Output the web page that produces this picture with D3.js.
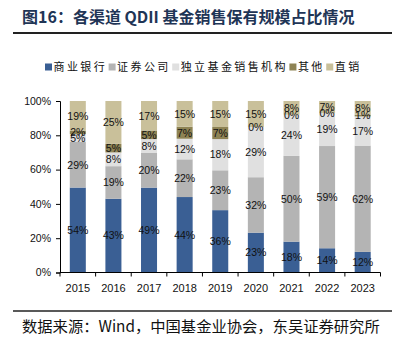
<!DOCTYPE html>
<html>
<head>
<meta charset="utf-8">
<script src="https://cdn.jsdelivr.net/npm/d3@7"></script>
<style>
  html, body { margin: 0; padding: 0; background: #fff; }
  svg { display: block; }
</style>
</head>
<body>
<svg id="chart" width="396" height="342"></svg>
<script>
// QDII fund holdings share by sales channel, 2015–2023 (%)
const years = ["2015", "2016", "2017", "2018", "2019", "2020", "2021", "2022", "2023"];
const channels = ["商业银行", "证券公司", "独立基金销售机构", "其他", "直销"];
const bank        = [54, 43, 49, 44, 36, 23, 18, 14, 12];
const securities  = [29, 19, 20, 22, 23, 32, 50, 59, 62];
const independent = [5, 8, 8, 12, 18, 29, 24, 19, 17];
const other       = [2, 5, 5, 7, 7, 0, 0, 0, 1];
const direct      = [19, 25, 17, 15, 15, 15, 8, 7, 8];
const yTicks = [0, 0.2, 0.4, 0.6, 0.8, 1];
const colors = ["#3a5f94", "#b4b4b4", "#e0e0e0", "#8e8354", "#c9c09a"];

const seriesValues = [bank, securities, independent, other, direct];
const rows = years.map((y, i) => {
  const r = { year: y };
  channels.forEach((c, k) => { r[c] = seriesValues[k][i]; });
  return r;
});

const svg = d3.select("#chart");
const cjk = "'Noto Sans CJK SC', 'Noto Sans', sans-serif";
const latin = "'Liberation Sans', Arial, sans-serif";

// Title and rules
svg.append("text")
  .attr("x", 22).attr("y", 23)
  .attr("font-family", cjk).attr("font-weight", 700)
  .attr("font-size", 16).attr("fill", "#1f3556")
  .text("图16：各渠道 QDII 基金销售保有规模占比情况");
svg.append("line").attr("x1", 13).attr("x2", 392).attr("y1", 33).attr("y2", 33)
  .attr("stroke", "#222").attr("stroke-width", 2);
svg.append("line").attr("x1", 13).attr("x2", 392).attr("y1", 311).attr("y2", 311)
  .attr("stroke", "#222").attr("stroke-width", 1.5);
svg.append("text")
  .attr("x", 22).attr("y", 332)
  .attr("font-family", cjk).attr("font-size", 15.3).attr("fill", "#111")
  .text("数据来源：Wind，中国基金业协会，东吴证券研究所");

// Scales
const x = d3.scaleBand().domain(years).range([60, 380.5]).paddingInner(0.55).paddingOuter(0.275);
const y = d3.scaleLinear().domain([0, 1]).range([272.5, 101]);

// Percent-stacked layers
const stack = d3.stack().keys(channels).offset(d3.stackOffsetExpand);
const layers = stack(rows);

const g = svg.append("g");
layers.forEach((layer, k) => {
  g.append("g").attr("fill", colors[k])
    .selectAll("rect").data(layer).join("rect")
    .attr("x", d => x(d.data.year))
    .attr("width", x.bandwidth())
    .attr("y", d => y(d[1]))
    .attr("height", d => y(d[0]) - y(d[1]));
});

// Segment value labels
layers.forEach((layer, k) => {
  g.append("g")
    .selectAll("text").data(layer).join("text")
    .attr("x", d => x(d.data.year) + x.bandwidth() / 2)
    .attr("y", d => (y(d[0]) + y(d[1])) / 2)
    .attr("dy", "0.36em")
    .attr("text-anchor", "middle")
    .attr("font-family", latin).attr("font-size", 10.5).attr("fill", "#111")
    .text(d => d.data[layer.key] + "%");
});

// Y axis
const yAxis = svg.append("g").attr("transform", "translate(60,0)")
  .call(d3.axisLeft(y).tickValues(yTicks).tickFormat(d3.format(".0%")).tickSize(4).tickPadding(5));
yAxis.select(".domain").attr("stroke", "#000");
yAxis.selectAll(".tick line").attr("stroke", "#000");
yAxis.selectAll("text").attr("font-family", latin).attr("font-size", 10.5).attr("fill", "#111");

// X axis: baseline, boundary ticks, centred year labels
const xg = svg.append("g");
xg.append("line").attr("x1", x.range()[0]).attr("x2", x.range()[1])
  .attr("y1", y(0)).attr("y2", y(0)).attr("stroke", "#000");
const bounds = years.map(yr => x(yr) - x.step() * x.paddingInner() / 2);
bounds.push(x.range()[1]);
xg.selectAll("line.tk").data(bounds).join("line").attr("class", "tk")
  .attr("x1", d => d).attr("x2", d => d)
  .attr("y1", y(0)).attr("y2", y(0) + 4).attr("stroke", "#000");
xg.selectAll("text").data(years).join("text")
  .attr("x", d => x(d) + x.bandwidth() / 2)
  .attr("y", 292)
  .attr("text-anchor", "middle")
  .attr("font-family", latin).attr("font-size", 11).attr("fill", "#111")
  .text(d => d);

// Legend
const legend = svg.append("g").attr("transform", "translate(45,67)");
let lx = 0;
channels.forEach((c, k) => {
  const item = legend.append("g").attr("transform", `translate(${lx},0)`);
  item.append("rect").attr("x", 0).attr("y", -3.5).attr("width", 7).attr("height", 7).attr("fill", colors[k]);
  const t = item.append("text").attr("x", 8.5).attr("dy", "0.36em")
    .attr("font-family", cjk).attr("font-size", 11).attr("letter-spacing", 2.4)
    .attr("fill", "#111").text(c);
  lx += 8.5 + t.node().getComputedTextLength() + 1.5;
});
</script>
</body>
</html>
